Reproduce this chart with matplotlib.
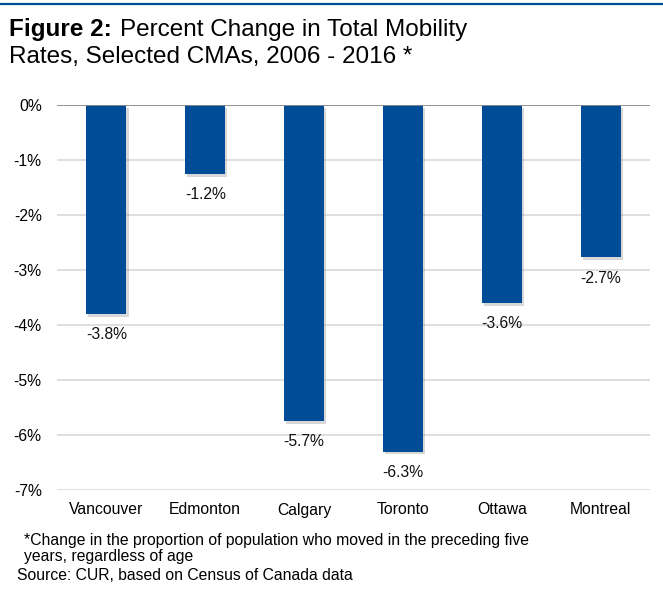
import matplotlib.pyplot as plt
import matplotlib.patheffects as pe
from matplotlib.lines import Line2D

# data
cities = ['Vancouver', 'Edmonton', 'Calgary', 'Toronto', 'Ottawa', 'Montreal']
change = [-3.8, -1.25, -5.75, -6.3, -3.6, -2.77]
labels = ['-3.8%', '-1.2%', '-5.7%', '-6.3%', '-3.6%', '-2.7%']
yticks = [0, -1, -2, -3, -4, -5, -6, -7]

blue = '#004C97'
fs = 11.3
plt.rcParams['font.family'] = ['Liberation Sans', 'DejaVu Sans']

W, H = 663, 595
fig = plt.figure(figsize=(W / 100, H / 100), dpi=100)
ax = fig.add_axes([57 / W, 1 - 490 / H, 593 / W, 385 / H])

x = list(range(len(cities)))
bars = ax.bar(x, change, width=0.405, color=blue, zorder=3)
for b in bars:
    b.set_path_effects([pe.SimplePatchShadow(offset=(1.5, -2), shadow_rgbFace='#808080', alpha=0.3),
                        pe.Normal()])

for xi, v, lab in zip(x, change, labels):
    ax.annotate(lab, (xi, v), xytext=(0, -9.5), textcoords='offset points',
                ha='center', va='top', fontsize=fs, color='#111111')

ax.set_xlim(-0.5, len(cities) - 0.5)
ax.set_ylim(-7, 0)
ax.set_yticks(yticks)
ax.set_yticklabels([f'{t}%' for t in yticks], fontsize=fs)
ax.set_xticks(x)
ax.set_xticklabels(cities, fontsize=fs)
ax.tick_params(length=0)
ax.tick_params(axis='x', pad=9)
ax.tick_params(axis='y', pad=11)
ax.yaxis.grid(True, color='#D9D9D9', linewidth=1.2, zorder=0)
ax.axhline(0, color='#8C8C8C', linewidth=1.3, zorder=4)
for s in ax.spines.values():
    s.set_visible(False)

# top blue rule
fig.add_artist(Line2D([0, 1], [1 - 4 / H, 1 - 4 / H], color=blue, linewidth=1.6,
                      transform=fig.transFigure))

# title: bold lead-in followed by regular text
t1 = fig.text(9 / W, 1 - 36 / H, 'Figure 2:', fontsize=17.5, fontweight='bold',
              va='baseline', ha='left')
fig.canvas.draw()
bb = t1.get_window_extent(renderer=fig.canvas.get_renderer())
fig.text(bb.x1 / W + 8 / W, 1 - 36 / H, 'Percent Change in Total Mobility', fontsize=17.5,
         va='baseline', ha='left')
fig.text(9 / W, 1 - 63 / H, 'Rates, Selected CMAs, 2006 - 2016 *', fontsize=17.5,
         va='baseline', ha='left')

fig.text(24 / W, 1 - 545 / H, '*Change in the proportion of population who moved in the preceding five',
         fontsize=fs, va='baseline', ha='left')
fig.text(24 / W, 1 - 561 / H, 'years, regardless of age', fontsize=fs, va='baseline', ha='left')
fig.text(17 / W, 1 - 580 / H, 'Source: CUR, based on Census of Canada data', fontsize=fs,
         va='baseline', ha='left')

fig.savefig('out.png', dpi=100)
